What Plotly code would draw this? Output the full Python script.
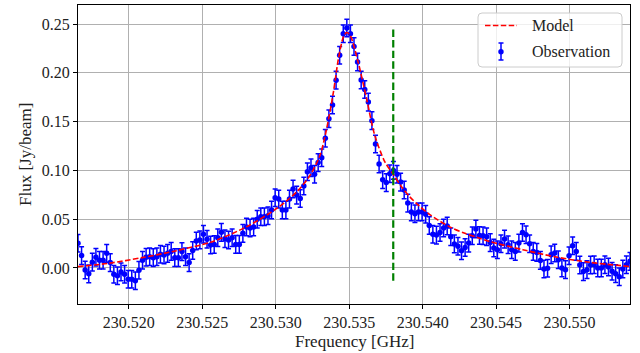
import numpy as np
import plotly.graph_objects as go

# ---------------- data ----------------
FREQ_START = 230.51654      # GHz, first channel
CHANNEL_WIDTH = 0.000244    # GHz per channel

flux = [
    0.0253, 0.0127, -0.002, -0.006, 0.006, 0.011, 0.008, 0.008, 0.015, 0.0055,
    -0.0065, -0.008, -0.004, -0.0065, -0.0116, -0.0116, -0.013, -0.0024, 0.008, 0.011,
    0.0116, 0.0106, 0.0116, 0.014, 0.0134, 0.015, 0.017, 0.0106, 0.0106, 0.0168,
    0.0116, 0.0055, 0.018, 0.0277, 0.0288, 0.0346, 0.0295, 0.0236, 0.024, 0.031,
    0.0365, 0.030, 0.0287, 0.031, 0.0242, 0.0242, 0.0355, 0.042, 0.041, 0.042,
    0.050, 0.0526, 0.0526, 0.0536, 0.0594, 0.072, 0.0706, 0.0594, 0.0594, 0.0706,
    0.081, 0.0747, 0.0713, 0.084, 0.0986, 0.1027, 0.096, 0.108, 0.113, 0.133,
    0.153, 0.167, 0.1925, 0.218, 0.240, 0.246, 0.240, 0.227, 0.211, 0.1926,
    0.183, 0.170, 0.151, 0.127, 0.1065, 0.0905, 0.0875, 0.0965, 0.100, 0.096,
    0.088, 0.080, 0.0665, 0.0575, 0.0555, 0.0575, 0.0575, 0.055, 0.0435, 0.0345,
    0.0337, 0.0363, 0.041, 0.043, 0.032, 0.0247, 0.0223, 0.0176, 0.021, 0.0255,
    0.033, 0.040, 0.0333, 0.033, 0.032, 0.026, 0.0204, 0.0187, 0.0248, 0.0296,
    0.0238, 0.0187, 0.017, 0.0255, 0.0364, 0.034, 0.0248, 0.017, 0.016, 0.0078,
    -0.001, -0.0003, 0.0136, 0.0153, 0.0085, 0.000, -0.0017, 0.0126, 0.0228, 0.017,
    0.003, -0.0037, -0.0017, 0.003, 0.0034, 0.000, 0.000, 0.0034, 0.001, -0.0034,
    -0.0058, -0.009, -0.001, 0.0034, 0.0068,
]
flux_err = 0.009

model_freq = [
    230.51654, 230.51862, 230.52090, 230.52317, 230.52569, 230.52802, 230.53007,
    230.53143, 230.53234, 230.53302, 230.53347, 230.53393, 230.53427, 230.53461,
    230.53483, 230.53506, 230.53561, 230.53618, 230.53674, 230.53742, 230.53799,
    230.53856, 230.53912, 230.53970, 230.54038, 230.54106, 230.54196, 230.54287,
    230.54378, 230.54460, 230.54682, 230.54910, 230.55136, 230.55412,
]
model_flux = [
    0.0014, 0.0048, 0.0106, 0.0175, 0.027, 0.0423, 0.061,
    0.078, 0.095, 0.1157, 0.143, 0.1805, 0.2147, 0.2369,
    0.2413, 0.2386, 0.211, 0.1737, 0.136, 0.109, 0.096,
    0.0833, 0.073, 0.0645, 0.056, 0.049, 0.0413, 0.0355,
    0.031, 0.027, 0.0187, 0.0112, 0.0058, 0.0015,
]

line_freq = 230.5380

x_ticks = [230.520, 230.525, 230.530, 230.535, 230.540, 230.545, 230.550]
y_ticks = [0.00, 0.05, 0.10, 0.15, 0.20, 0.25]

# ---------------- figure ----------------
freq = FREQ_START + CHANNEL_WIDTH * np.arange(len(flux))

FONT = "Liberation Serif"
TXT = "#222222"
W, H = 640, 353
L, R, T, B = 78, 10, 5, 49
PW, PH = W - L - R, H - T - B


def px(xp):
    return (xp - L) / PW


def py(yp):
    return (H - B - yp) / PH


fig = go.Figure()

fig.add_trace(go.Scatter(
    x=freq, y=flux, mode="markers",
    marker=dict(color="#0000ff", size=5.5),
    error_y=dict(type="constant", value=flux_err, color="#0000ff",
                 thickness=1.5, width=2.5),
    name="Observation", showlegend=False,
))

fig.add_trace(go.Scatter(
    x=model_freq, y=model_flux, mode="lines",
    line=dict(color="#ff0000", width=1.6, dash="5.5px,2.4px",
              shape="spline", smoothing=0.8),
    name="Model", showlegend=False,
))

fig.add_trace(go.Scatter(
    x=[line_freq, line_freq], y=[min(flux), max(flux)], mode="lines",
    line=dict(color="#008000", width=2.2, dash="7.4px,3.2px"),
    showlegend=False,
))

# ---- manual legend (matplotlib-like) ----
lx0, lx1, ly0, ly1 = 478, 622, 13, 67
r = 4
rx, ry = r / PW, r / PH
X0, X1, Y0, Y1 = px(lx0), px(lx1), py(ly1), py(ly0)
path = (f"M {X0+rx},{Y0} L {X1-rx},{Y0} Q {X1},{Y0} {X1},{Y0+ry} "
        f"L {X1},{Y1-ry} Q {X1},{Y1} {X1-rx},{Y1} L {X0+rx},{Y1} "
        f"Q {X0},{Y1} {X0},{Y1-ry} L {X0},{Y0+ry} Q {X0},{Y0} {X0+rx},{Y0} Z")
shapes = [dict(type="path", path=path, xref="paper", yref="paper",
               line=dict(color="#cccccc", width=1),
               fillcolor="rgba(255,255,255,0.8)", layer="above")]
shapes.append(dict(type="line", xref="paper", yref="paper",
                   x0=px(485), x1=px(517), y0=py(25.5), y1=py(25.5),
                   line=dict(color="#ff0000", width=1.6, dash="5.5px,2.4px"),
                   layer="above"))
ex = 501
shapes.append(dict(type="line", xref="paper", yref="paper",
                   x0=px(ex), x1=px(ex), y0=py(43), y1=py(60),
                   line=dict(color="#0000ff", width=1.5), layer="above"))
for yy in (43, 60):
    shapes.append(dict(type="line", xref="paper", yref="paper",
                       x0=px(ex - 2.5), x1=px(ex + 2.5), y0=py(yy), y1=py(yy),
                       line=dict(color="#0000ff", width=1.5), layer="above"))
shapes.append(dict(type="circle", xref="paper", yref="paper",
                   x0=px(ex - 2.7), x1=px(ex + 2.7), y0=py(51.7 + 2.7), y1=py(51.7 - 2.7),
                   line=dict(color="#0000ff", width=0), fillcolor="#0000ff",
                   layer="above"))

annotations = [
    dict(text="Model", xref="paper", yref="paper", x=px(530), y=py(25.5),
         xanchor="left", yanchor="middle", showarrow=False,
         font=dict(family=FONT, size=16, color=TXT)),
    dict(text="Observation", xref="paper", yref="paper", x=px(530), y=py(51.7),
         xanchor="left", yanchor="middle", showarrow=False,
         font=dict(family=FONT, size=16, color=TXT)),
    dict(text="Frequency [GHz]", xref="paper", yref="paper",
         x=px((L + W - R) / 2), y=py(341), xanchor="center", yanchor="middle",
         showarrow=False, font=dict(family=FONT, size=17, color=TXT)),
    dict(text="Flux [Jy/beam]", xref="paper", yref="paper",
         x=px(25), y=py(155), xanchor="center", yanchor="middle", textangle=-90,
         showarrow=False, font=dict(family=FONT, size=17, color=TXT)),
]

fig.update_layout(
    width=W, height=H,
    margin=dict(l=L, r=R, t=T, b=B, pad=0, autoexpand=False),
    paper_bgcolor="white", plot_bgcolor="white",
    font=dict(family=FONT, size=16, color=TXT),
    shapes=shapes, annotations=annotations,
    showlegend=False,
)

axis_common = dict(
    showline=True, linecolor="black", linewidth=1, mirror=True,
    ticks="outside", ticklen=4, tickwidth=1, tickcolor="black",
    showgrid=True, gridcolor="#b0b0b0", gridwidth=0.8,
    zeroline=False, tickfont=dict(family=FONT, size=16, color=TXT),
    automargin=False,
)

fig.update_xaxes(
    range=[freq[0], freq[-1]], tickvals=x_ticks,
    ticktext=[f"{v:.3f}" for v in x_ticks],
    **axis_common,
)
fig.update_yaxes(
    range=[-0.0369, 0.2695], tickvals=y_ticks,
    ticktext=[f"{v:.2f}" for v in y_ticks],
    **axis_common,
)

fig.write_html("out.html", config={"displayModeBar": False})

# remove the browser's default page margin so the figure sits at (0, 0)
with open("out.html", "r", encoding="utf-8") as fh:
    html = fh.read()
html = html.replace("<head>", "<head><style>html,body{margin:0;padding:0;overflow:hidden;}</style>", 1)
with open("out.html", "w", encoding="utf-8") as fh:
    fh.write(html)
